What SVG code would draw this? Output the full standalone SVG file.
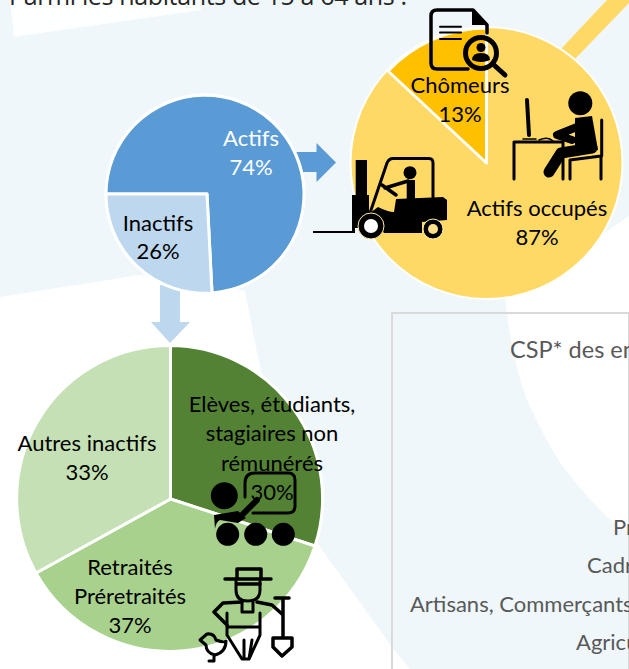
<svg xmlns="http://www.w3.org/2000/svg" width="629" height="669" viewBox="0 0 629 669">
<style>
.l{font-family:Lato,"Liberation Sans",sans-serif;font-size:22px;fill:#000;text-anchor:middle}
.w{fill:#fff}
.g{font-family:Lato,"Liberation Sans",sans-serif;fill:#595959;font-size:22px}
.s{stroke:#fff;stroke-width:3;stroke-linejoin:round}
.i{fill:none;stroke:#000;stroke-linecap:round;stroke-linejoin:round}
</style>
<rect width="629" height="669" fill="#EFF7FB"/>
<g id="background">
<path d="M10,0H200L201,10L14,37Z" fill="#fff" opacity=".9"/>
<path d="M0,297L140,275L245,291L257,353Q285,480 320,547L392,647L410,669H0Z" fill="#fff"/>
<path d="M629,216L600,236L520,285L505,298Q512,360 527,400Q545,440 563,467Q585,495 607,517L629,533Z" fill="#fff"/>
<path d="M607,0L560,50L574,60L629,3V0Z" fill="#FFD966"/>
<path d="M629,669V313H392V669" fill="none" stroke="#D9D9D9" stroke-width="2"/>
</g>
<text x="9" y="5" font-family="Open Sans,sans-serif" font-size="25" fill="#262626" textLength="398" lengthAdjust="spacing">Parmi les habitants de 15 à 64 ans :</text>
<g id="connectors">
<path d="M296,152H316.500V143L336,162.500L316.500,182V172H296Z" fill="#5B9BD5"/>
<path d="M160,285H180V322H190L170,343L151,322H160Z" fill="#BDD7EE"/>
</g>
<g id="pie-actifs">
<circle cx="205" cy="194" r="100.500" fill="#fff"/>
<path d="M207,194H106A99,99 0 1 1 212,293Z" fill="#5B9BD5" class="s"/>
<path d="M207,194H106A99,99 0 0 0 212,293Z" fill="#BDD7EE" class="s"/>
<text class="l w" x="251" y="146">Actifs</text><text class="l w" x="251" y="175">74%</text>
<text class="l" x="158" y="231">Inactifs</text><text class="l" x="158" y="259">26%</text>
</g>
<g id="pie-occupes">
<circle cx="486.500" cy="163" r="137" fill="#fff"/>
<circle cx="486.500" cy="163" r="135" fill="#FFD966"/>
<path d="M486.500,163L388,71A135,135 0 0 1 486.500,28Z" fill="#FFC000" class="s"/>
<text class="l" x="460" y="93">Chômeurs</text><text class="l" x="460" y="122">13%</text>
<text class="l" x="537" y="216">Actifs occupés</text><text class="l" x="537" y="245">87%</text>
</g>
<g id="pie-inactifs">
<path d="M170.500,499V345.500A153,153 0 0 1 315,546Z" fill="#548235" class="s"/>
<path d="M170.500,499L315,546A153,153 0 0 1 36,573Z" fill="#A9D18E" class="s"/>
<path d="M170.500,499L36,573A153,153 0 0 1 170.500,345.500Z" fill="#C5E0B4" class="s"/>
<text class="l" x="272" y="412">Elèves, étudiants,</text><text class="l" x="272" y="441">stagiaires non</text><text class="l" x="272" y="471">rémunérés</text><text class="l" x="272" y="500">30%</text>
<text class="l" x="87" y="451">Autres inactifs</text><text class="l" x="87" y="480">33%</text>
<text class="l" x="130" y="575">Retraités</text><text class="l" x="130" y="604">Préretraités</text><text class="l" x="130" y="633">37%</text>
</g>
<g id="csp">
<text class="g" x="510" y="358" style="font-size:23.500px">CSP* des en</text>
<text class="g" x="613" y="535">Pr</text>
<text class="g" x="587" y="573">Cadr</text>
<text class="g" x="410" y="612">Artisans, Commerçants</text>
<text class="g" x="576" y="650">Agricu</text>
</g>
<g id="icon-document">
<path class="i" stroke-width="3.500" d="M468,69H437Q431,69 431,63V16Q431,10 437,10H473L487,25V33"/>
<path d="M472,10L488,25H472Z" fill="#000"/>
<path class="i" stroke-width="2" d="M440,26.700H461M440,32.500H461M440,39H461"/>
<circle class="i" stroke-width="5" cx="481" cy="53" r="15.500"/>
<path class="i" stroke-width="5" d="M494,65L505,75"/>
<circle cx="481" cy="47.500" r="4.500"/><path d="M472,60Q472,53 481,53Q490,53 490,60Q481,64 472,60Z"/>
</g>
<g id="icon-forklift">
<path d="M355.700,160H367V195H369V228H355V233H313V231H352V195H355.700Z"/>
<path class="i" stroke-width="3" d="M370,213L387,163Q389,158.500 393,158.500H429Q433,158.500 433,163V197"/>
<circle cx="410" cy="172.700" r="6.500"/>
<path d="M406.700,180H415V200H406.700Z"/>
<path class="i" stroke-width="3.500" d="M385,188L408,181M382,185L396,195" />
<path d="M370,213L378,207Q388,212 394,212L396,199L443,197L447,200V220L422,222V233H384Z"/>
<circle cx="371" cy="226" r="13" fill="#000" stroke="#FFE9A8" stroke-width="1"/><circle cx="371" cy="226" r="7" fill="#fff"/>
<circle cx="433" cy="229" r="10" fill="#000" stroke="#FFE9A8" stroke-width="1"/><circle cx="433" cy="229" r="5" fill="#FFE08A"/>
</g>
<g id="icon-desk">
<ellipse cx="580.300" cy="103.300" rx="12" ry="12"/>
<path d="M575,118L592,116L598,150L575,153Z"/>
<path class="i" stroke-width="8" d="M577,127L557,135L572,140"/>
<path class="i" stroke-width="11" d="M592,148L561,153L549,172"/>
<path class="i" stroke-width="4" d="M527,100L529,135"/>
<path class="i" stroke-width="1.500" d="M523,139H536M539,140Q548,136 553,141"/>
<path class="i" stroke-width="3" d="M514,179V142H563V179M570,179V160L601,156V179M601.700,156V120"/>
</g>
<g id="icon-teacher">
<circle cx="224.300" cy="495.700" r="13.500"/>
<path class="i" stroke-width="3" d="M245,497V483Q245,473 255,473H288Q295,473 295,480V506Q295,513 288,513H253"/>
<path class="i" stroke-width="6" d="M257,500L240,517"/>
<path d="M214,515L238,511L246,518L238,523L220,520Q216,522 215,529Z"/>
<circle cx="227.700" cy="534.300" r="11.500"/><circle cx="255.700" cy="534.300" r="11.500"/><circle cx="283.300" cy="534.300" r="11.500"/>
</g>
<g id="icon-farmer">
<path class="i" stroke-width="3.500" d="M225,579H271M237,579V569H261V579M237,584H260"/>
<path class="i" stroke-width="3" d="M236,581V590Q236,601 248,601Q260,601 260,590V581"/>
<path class="i" stroke-width="3.500" d="M242,602L223,603L214,612L227,625M257,602L272,605L282,614"/>
<path class="i" stroke-width="3" d="M227,613V635L242,659H249L260,635V613M242,602V612H253V602M244,640V659M252,640L249,659M227,627L260,627"/>
<path class="i" stroke-width="3.500" d="M275,598H289M283,598V637M273,638H292V647L282,656L273,647Z"/>
<path class="i" stroke-width="3" d="M200,640L207,634Q214,633 216,640Q224,643 226,641Q226,652 215,655Q206,653 206,645ZM214,656V661H209"/>
</g>
</svg>
